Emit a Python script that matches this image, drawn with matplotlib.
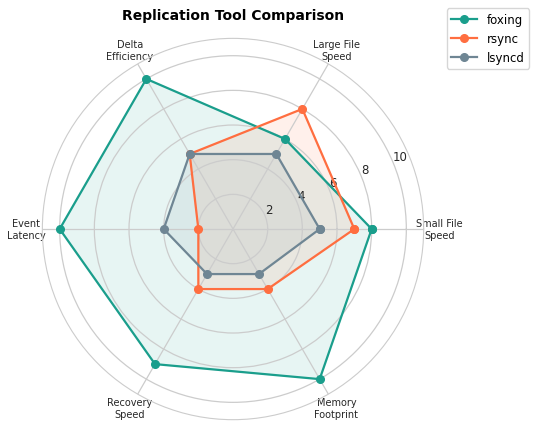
import matplotlib.pyplot as plt
import numpy as np

# categories and scores
categories = ["Small File\nSpeed", "Large File\nSpeed", "Delta\nEfficiency",
              "Event\nLatency", "Recovery\nSpeed", "Memory\nFootprint"]
foxing = [8, 6, 10, 10, 9, 10]
rsync = [7, 8, 5, 2, 4, 4]
lsyncd = [5, 5, 5, 4, 3, 3]

tools = ["foxing", "rsync", "lsyncd"]
colors = ["#1a9e8c", "#ff6e40", "#6f8694"]

angles = np.linspace(0, 2 * np.pi, len(categories), endpoint=False)
closed = np.concatenate([angles, angles[:1]])

fig = plt.figure(figsize=(5.39, 4.27), dpi=100)
ax = fig.add_axes([0.0785, 0.0148, 0.7076, 0.893], projection="polar")

for name, vals, col in zip(tools, [foxing, rsync, lsyncd], colors):
    v = vals + vals[:1]
    ax.plot(closed, v, color=col, linewidth=1.6, marker="o", markersize=5.5, label=name)
    ax.fill(closed, v, color=col, alpha=0.1)

ax.set_xticks(angles)
ax.set_xticklabels(categories, fontsize=7, color="#262626")
ax.set_ylim(0, 11)
ax.set_yticks([2, 4, 6, 8, 10])
ax.set_yticklabels(["2", "4", "6", "8", "10"], fontsize=8.5, color="#262626")
ax.set_rlabel_position(22.5)
ax.grid(color="#cccccc", linewidth=0.9)
ax.spines["polar"].set_color("#cccccc")
ax.tick_params(axis="x", pad=1)

ax.set_title("Replication Tool Comparison", fontsize=10, fontweight="bold", pad=14)
fig.legend(loc="upper right", bbox_to_anchor=(0.993, 0.992), fontsize=8.5, handlelength=2.2)

fig.savefig("out.png")
